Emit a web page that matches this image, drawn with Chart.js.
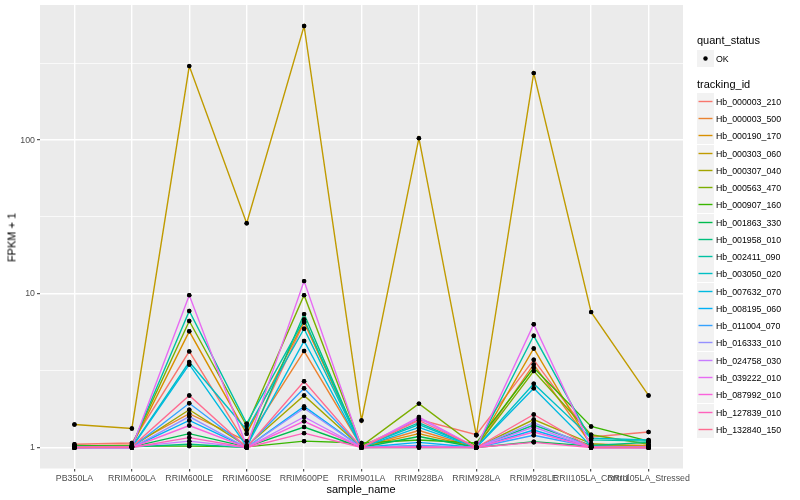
<!DOCTYPE html>
<html>
<head>
<meta charset="utf-8">
<script src="https://cdn.jsdelivr.net/npm/chart.js@4.4.1/dist/chart.umd.min.js"></script>
<style>
  html, body { margin: 0; padding: 0; background: #fff; }
  #wrap { position: relative; width: 800px; height: 500px; font-family: "Liberation Sans", Arial, sans-serif; }
  #myChart { position: absolute; left: 0; top: 0; }
  .txt { position: absolute; white-space: nowrap; line-height: 1; font-weight: normal; transform: translateY(-50%); }
  .key { position: absolute; width: 17px; height: 17px; background: #f2f2f2; }
  #xTitle { position: absolute; left: 311px; top: 483px; width: 100px; height: 13px; line-height: 13px; text-align: center; font-size: 11px; }
  #yTitle { position: absolute; left: -38px; top: 231px; width: 100px; height: 13px; line-height: 13px; text-align: center; font-size: 11px; transform: rotate(-90deg); }
</style>
</head>
<body>
<div id="wrap">
  <canvas id="myChart" width="800" height="500"></canvas>
  <div id="xTitle">sample_name</div>
  <div id="yTitle">FPKM + 1</div>
  <div id="legend"></div>
</div>
<script>
const samples = ['PB350LA', 'RRIM600LA', 'RRIM600LE', 'RRIM600SE', 'RRIM600PE', 'RRIM901LA',
  'RRIM928BA', 'RRIM928LA', 'RRIM928LE', 'RRII105LA_Control', 'RRII105LA_Stressed']

const trackingIds = ['Hb_000003_210', 'Hb_000003_500', 'Hb_000190_170', 'Hb_000303_060', 'Hb_000307_040',
  'Hb_000563_470', 'Hb_000907_160', 'Hb_001863_330', 'Hb_001958_010', 'Hb_002411_090',
  'Hb_003050_020', 'Hb_007632_070', 'Hb_008195_060', 'Hb_011004_070', 'Hb_016333_010',
  'Hb_024758_030', 'Hb_039222_010', 'Hb_087992_010', 'Hb_127839_010', 'Hb_132840_150']

// FPKM + 1, one array per tracking_id, in sample order
const hb000003_210 = [1.05, 1.07, 4.22, 1.04, 6.5, 1.02, 1.52, 1.21, 3.72, 1.17, 1.26]
const hb000003_500 = [1.02, 1.04, 1.66, 1.10, 4.24, 1.01, 1.29, 1.00, 3.47, 1.05, 1.03]
const hb000190_170 = [1.01, 1.02, 5.7, 1.23, 6.6, 1.01, 1.23, 1.00, 4.41, 1.03, 1.02]
const hb000303_060 = [1.41, 1.33, 303, 28.8, 553, 1.5, 103, 1.2, 273, 7.6, 2.18]
const hb000307_040 = [1.01, 1.01, 1.76, 1.02, 2.18, 1.00, 1.02, 1.00, 1.52, 1.06, 1.01]
const hb000563_470 = [1.02, 1.03, 6.65, 1.38, 9.8, 1.02, 1.93, 1.01, 3.14, 1.21, 1.05]
const hb000907_160 = [1.03, 1.02, 1.02, 1.01, 1.1, 1.07, 1.12, 1.07, 3.3, 1.37, 1.1]
const hb001863_330 = [1.02, 1.01, 1.23, 1.01, 1.36, 1.00, 1.18, 1.00, 1.09, 1.02, 1.00]
const hb001958_010 = [1.00, 1.01, 1.05, 1.00, 7.38, 1.00, 1.00, 1.00, 1.4, 1.03, 1.08]
const hb002411_090 = [1.01, 1.02, 7.73, 1.43, 6.8, 1.01, 1.45, 1.00, 5.33, 1.12, 1.1]
const hb003050_020 = [1.00, 1.01, 3.6, 1.3, 5.93, 1.01, 1.41, 1.00, 2.6, 1.15, 1.12]
const hb007632_070 = [1.00, 1.00, 3.47, 1.02, 4.93, 1.00, 1.35, 1.00, 2.43, 1.02, 1.01]
const hb008195_060 = [1.00, 1.00, 1.5, 1.00, 1.85, 1.00, 1.08, 1.00, 1.3, 1.00, 1.00]
const hb011004_070 = [1.00, 1.00, 1.94, 1.01, 2.43, 1.00, 1.03, 1.00, 1.2, 1.01, 1.00]
const hb016333_010 = [1.00, 1.00, 1.59, 1.00, 1.8, 1.00, 1.02, 1.00, 1.45, 1.00, 1.00]
const hb024758_030 = [1.00, 1.01, 1.1, 1.00, 1.58, 1.00, 1.55, 1.00, 1.36, 1.00, 1.00]
const hb039222_010 = [1.00, 1.00, 9.8, 1.02, 12.1, 1.00, 1.58, 1.00, 6.34, 1.01, 1.00]
const hb087992_010 = [1.00, 1.00, 1.39, 1.00, 1.48, 1.00, 1.01, 1.00, 1.26, 1.00, 1.00]
const hb127839_010 = [1.00, 1.00, 1.16, 1.00, 1.24, 1.00, 1.00, 1.00, 1.08, 1.00, 1.00]
const hb132840_150 = [1.00, 1.01, 2.18, 1.00, 2.7, 1.00, 1.5, 1.00, 1.64, 1.00, 1.00]

const series = [hb000003_210, hb000003_500, hb000190_170, hb000303_060, hb000307_040,
  hb000563_470, hb000907_160, hb001863_330, hb001958_010, hb002411_090,
  hb003050_020, hb007632_070, hb008195_060, hb011004_070, hb016333_010,
  hb024758_030, hb039222_010, hb087992_010, hb127839_010, hb132840_150]

const yMajor = [1, 10, 100]
const yMinor = [3.1623, 31.623, 316.23]

// ggplot hue palette for 20 levels
const palette = ['#F8766D', '#EA8331', '#D89000', '#C09B00', '#A3A500', '#7CAE00', '#39B600', '#00BB4E',
  '#00BF7D', '#00C1A3', '#00BFC4', '#00BAE0', '#00B0F6', '#35A2FF', '#9590FF', '#C77CFF',
  '#E76BF3', '#FA62DB', '#FF62BC', '#FF6C91']

const family = '"Liberation Sans", Arial, sans-serif'
const yMin = 0.73
const yMax = 757

const panelBg = {
  id: 'panelBg',
  beforeDraw(chart) {
    const a = chart.chartArea
    chart.ctx.save()
    chart.ctx.fillStyle = '#EBEBEB'
    chart.ctx.fillRect(a.left, a.top, a.right - a.left, a.bottom - a.top)
    chart.ctx.restore()
  }
}

// points go on top of all lines, like geom_point after geom_line
const pointsOnTop = {
  id: 'pointsOnTop',
  afterDatasetsDraw(chart) {
    chart.getSortedVisibleDatasetMetas().forEach(meta => {
      meta.data.forEach(pt => pt.draw(chart.ctx, chart.chartArea))
    })
  }
}

const isMajor = v => yMajor.some(m => Math.abs(m - v) < 1e-6)

const ctx = document.getElementById('myChart')
const myChart = new Chart(ctx, {
  type: 'line',
  data: {
    datasets: trackingIds.map((id, i) => ({
      label: id,
      data: series[i].map((v, j) => ({ x: j, y: v })),
      borderColor: palette[i],
      borderWidth: 1.4,
      pointRadius: 2.2,
      pointBackgroundColor: '#000',
      pointBorderColor: '#000',
      pointBorderWidth: 0,
      tension: 0,
      order: trackingIds.length - i
    }))
  },
  options: {
    responsive: false,
    animation: false,
    layout: { padding: { top: 5, right: 117, left: 0, bottom: 0 } },
    plugins: { legend: { display: false }, tooltip: { enabled: false } },
    scales: {
      x: {
        type: 'linear',
        bounds: 'data',
        min: -0.6,
        max: 10.6,
        afterBuildTicks: s => {
          s.min = -0.6
          s.max = 10.6
          s.ticks = samples.map((_, i) => ({ value: i }))
        },
        afterFit: s => { s.height = 31.5; s.paddingLeft = 0; s.paddingRight = 0 },
        ticks: {
          autoSkip: false,
          maxRotation: 0,
          minRotation: 0,
          padding: 2,
          color: '#4D4D4D',
          font: { size: 8.8, family: family },
          callback: v => samples[v]
        },
        grid: { color: '#fff', lineWidth: 1.4, tickLength: 3, tickColor: '#333', tickWidth: 1 },
        border: { display: false }
      },
      y: {
        type: 'logarithmic',
        bounds: 'data',
        min: yMin,
        max: yMax,
        afterBuildTicks: s => {
          s.min = yMin
          s.max = yMax
          s.ticks = yMajor.concat(yMinor).sort((a, b) => a - b).map(v => ({ value: v }))
        },
        afterFit: s => { s.width = 40; s.paddingTop = 0; s.paddingBottom = 0 },
        ticks: {
          padding: 2,
          color: '#4D4D4D',
          font: { size: 8.8, family: family },
          callback: v => isMajor(v) ? String(Math.round(v)) : ''
        },
        grid: {
          color: '#fff',
          lineWidth: c => isMajor(c.tick.value) ? 1.4 : 0.7,
          tickLength: 3,
          tickColor: c => isMajor(c.tick.value) ? '#333' : 'rgba(0,0,0,0)',
          tickWidth: 1
        },
        border: { display: false }
      }
    }
  },
  plugins: [panelBg, pointsOnTop]
})

// ggplot-like legend on the right
const legend = document.getElementById('legend')
const svgNS = 'http://www.w3.org/2000/svg'
function addText(txt, x, y, size) {
  const d = document.createElement('div')
  d.className = 'txt'
  d.style.left = x + 'px'
  d.style.top = y + 'px'
  d.style.fontSize = size + 'px'
  d.textContent = txt
  legend.appendChild(d)
}
function addKey(y, color, dot) {
  const k = document.createElement('div')
  k.className = 'key'
  k.style.left = '697px'
  k.style.top = y + 'px'
  const svg = document.createElementNS(svgNS, 'svg')
  svg.setAttribute('width', '17')
  svg.setAttribute('height', '17')
  svg.style.display = 'block'
  let m
  if (dot) {
    m = document.createElementNS(svgNS, 'circle')
    m.setAttribute('cx', '8.5'); m.setAttribute('cy', '8.5'); m.setAttribute('r', '2.2')
    m.setAttribute('fill', '#000')
  } else {
    m = document.createElementNS(svgNS, 'line')
    m.setAttribute('x1', '1.5'); m.setAttribute('x2', '15.5')
    m.setAttribute('y1', '8.5'); m.setAttribute('y2', '8.5')
    m.setAttribute('stroke', color); m.setAttribute('stroke-width', '1.4')
  }
  svg.appendChild(m)
  k.appendChild(svg)
  legend.appendChild(k)
}

addText('quant_status', 697, 40, 11)
addKey(50, null, true)
addText('OK', 716, 58.5, 8.8)
addText('tracking_id', 697, 84, 11)
trackingIds.forEach((id, i) => {
  const top = Math.round(92.7 + 17.27 * i)
  addKey(top, palette[i], false)
  addText(id, 716, top + 8.5, 8.8)
})
</script>
</body>
</html>
